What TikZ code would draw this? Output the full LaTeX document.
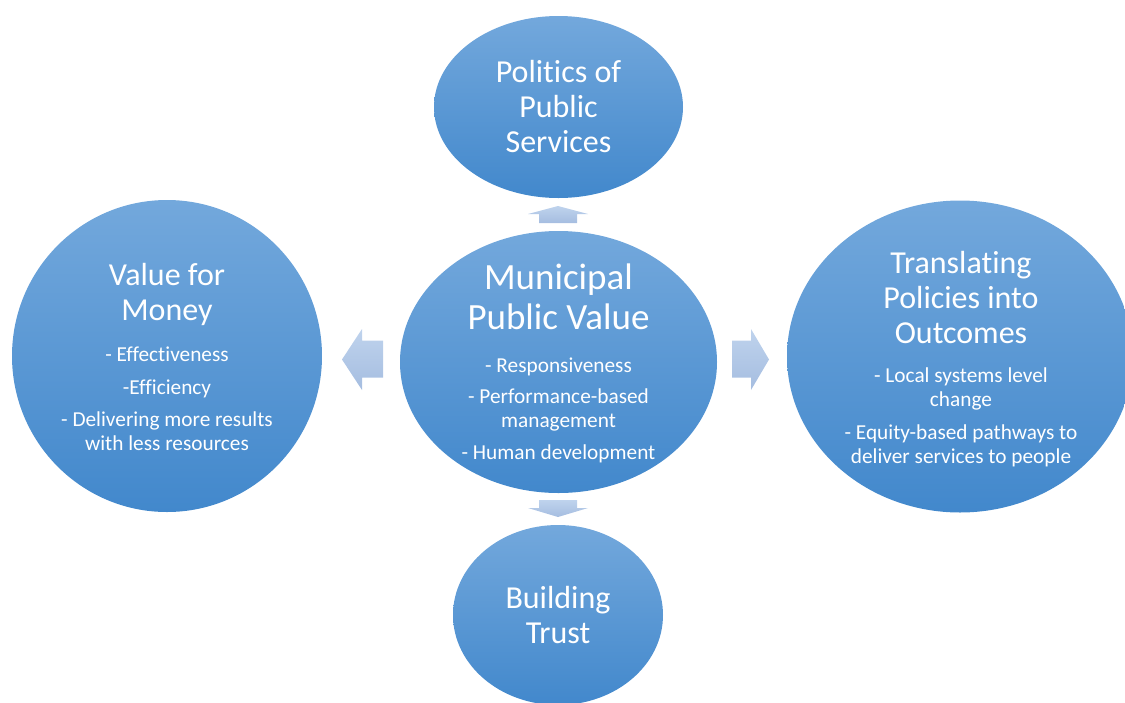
\documentclass[tikz,border=0pt]{standalone}
\usepackage{fontspec}
\setmainfont{Carlito}[Ligatures=NoCommon]
\usetikzlibrary{shapes.geometric}
\definecolor{bubtop}{RGB}{115,168,220}
\definecolor{bubbot}{RGB}{66,136,204}
\definecolor{arrtop}{RGB}{191,211,237}
\definecolor{arrbot}{RGB}{165,189,224}
\tikzset{
  bubble/.style={ellipse, draw=none, inner sep=0pt, top color=bubtop, bottom color=bubbot},
  heading/.style={text=white, align=center, font=\fontsize{32}{35}\selectfont},
  bigheading/.style={text=white, align=center, font=\fontsize{37}{40}\selectfont},
  detail/.style={text=white, align=center, font=\fontsize{21.3}{24}\selectfont},
  blockarrow/.style={draw=none, top color=arrtop, bottom color=arrbot},
}
\begin{document}
\begin{tikzpicture}[x=1pt,y=-1pt]
\useasboundingbox (0,0) rectangle (1125,702);
\clip (0,0) rectangle (1125,702);

% the five bubbles
\node[bubble, minimum width=249pt, minimum height=182pt] (pol) at (558.5,107) {};
\node[bubble, minimum width=317pt, minimum height=262pt] (mpv) at (558.5,362) {};
\node[bubble, minimum width=310pt, minimum height=312pt] (vfm) at (167,356) {};
\node[bubble, minimum width=346pt, minimum height=312pt] (tpo) at (960,356.5) {};
\node[bubble, minimum width=210pt, minimum height=180pt] (bt) at (558,615) {};

% block arrows pointing outwards from the centre
\coordinate (aup) at (558,206);
\shade[blockarrow] (aup) -- ++(30,8) -- ++(-11,0) -- ++(0,9) -- ++(-38,0) -- ++(0,-9) -- ++(-11,0) -- cycle;
\coordinate (adown) at (558,517);
\shade[blockarrow] (adown) -- ++(30,-9) -- ++(-11,0) -- ++(0,-8) -- ++(-38,0) -- ++(0,8) -- ++(-11,0) -- cycle;
\coordinate (aleft) at (342,359.5);
\shade[blockarrow] (aleft) -- ++(20,-30.5) -- ++(0,11.5) -- ++(21,0) -- ++(0,37) -- ++(-21,0) -- ++(0,12.5) -- cycle;
\coordinate (aright) at (769,359.5);
\shade[blockarrow] (aright) -- ++(-18,-30.5) -- ++(0,11.5) -- ++(-19,0) -- ++(0,37) -- ++(19,0) -- ++(0,12.5) -- cycle;

% texts
\node[heading] (polt) at (558.5,106.5) {Politics of\\Public\\Services};

\node[bigheading] (mpvt) at (558.5,297) {Municipal\\Public Value};
\node[detail] (mpvd) at (558.5,410.5) {- Responsiveness\\[7pt]- Performance-based\\management\\[8pt]- Human development};

\node[heading] (vfmt) at (167,294.5) {Value for\\Money};
\node[detail] (vfmd) at (167,398.5) {- Effectiveness\\[9pt]-Efficiency\\[8pt]- Delivering more results\\with less resources};

\node[heading] (tpot) at (961,298) {Translating\\Policies into\\Outcomes};
\node[detail] (tpod) at (961,417) {- Local systems level\\change\\[9pt]- Equity-based pathways to\\deliver services to people};

\node[heading] (btt) at (558,615) {Building\\Trust};
\end{tikzpicture}
\end{document}
